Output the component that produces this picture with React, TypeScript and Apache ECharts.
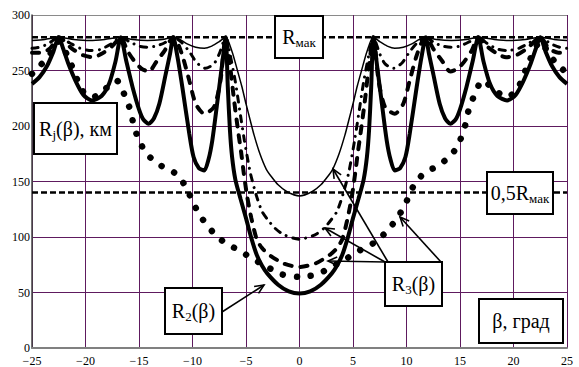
import React, { useEffect, useRef } from "react";
import * as echarts from "echarts";

// β, град (x) and R, км (y)
const xTicks = [-25, -20, -15, -10, -5, 0, 5, 10, 15, 20, 25];
const yTicks = [0, 50, 100, 150, 200, 250, 300];
const rMax = 280;
const rHalf = 140;

// thick solid  R2(β)
const thickR2: [number, number][] = [
  [-25, 238], [-24.3, 244], [-23.6, 254], [-23.0, 267], [-22.5, 280], [-22.1, 270], [-21.6, 256], [-20.9, 240],
  [-20.2, 228], [-19.4, 223], [-18.5, 227], [-17.8, 238], [-17.2, 258], [-16.7, 280], [-16.2, 259], [-15.6, 235],
  [-15.0, 215], [-14.6, 206], [-14.1, 202], [-13.6, 207], [-13.1, 220], [-12.5, 247], [-12.1, 265], [-11.8, 280],
  [-11.4, 262], [-10.95, 235], [-10.3, 193], [-9.9, 172], [-9.4, 162], [-8.9, 160], [-8.5, 170], [-8.15, 187],
  [-7.7, 220], [-7.2, 258], [-6.9, 280], [-6.7, 235], [-6.5, 196], [-6.3, 172], [-6.0, 152], [-5.5, 134],
  [-5.0, 117], [-4.5, 99], [-4.0, 84], [-3.5, 74], [-3.0, 67], [-2.0, 57], [-1.0, 51], [0, 49],
  [1.0, 51], [2.0, 57], [3.0, 67], [3.5, 74], [4.0, 84], [4.5, 99], [5.0, 117], [5.5, 134], [6.0, 152],
  [6.3, 172], [6.5, 196], [6.7, 235], [6.9, 280], [7.2, 258], [7.7, 220], [8.15, 187], [8.5, 170], [8.9, 160],
  [9.4, 162], [9.9, 172], [10.3, 193], [10.95, 235], [11.4, 262], [11.8, 280], [12.1, 265], [12.5, 247],
  [13.1, 220], [13.6, 207], [14.1, 202], [14.6, 206], [15.0, 215], [15.6, 235], [16.2, 259], [16.7, 280],
  [17.2, 258], [17.8, 238], [18.5, 227], [19.4, 223], [20.2, 228], [20.9, 240], [21.6, 256], [22.1, 270],
  [22.5, 280], [23.0, 267], [23.6, 254], [24.3, 244], [25, 238],
];

// large dots
const dotted: [number, number][] = [
  [-25, 247], [-24.5, 252], [-23.5, 262], [-22.5, 276], [-21.5, 259], [-20.3, 232], [-19.3, 226], [-18.2, 233],
  [-17.1, 241], [-16.4, 229], [-15.8, 214], [-15.5, 201], [-15.0, 187], [-14.2, 174], [-12.9, 164], [-11.7, 158],
  [-11.2, 153], [-10.6, 145], [-9.95, 131], [-9.2, 118], [-8.15, 105], [-7.0, 95], [-5.65, 88], [-4.3, 80],
  [-3.0, 73], [-1.7, 66.5], [-1.0, 65], [0, 64], [1.0, 65], [1.7, 66.5], [3.0, 73], [4.3, 80], [5.65, 88],
  [7.0, 95], [8.15, 105], [9.2, 118], [9.95, 131], [10.6, 145], [11.2, 153], [11.7, 158], [12.9, 164],
  [14.2, 174], [15.0, 187], [15.5, 201], [15.8, 214], [16.4, 229], [17.1, 241], [18.2, 233], [19.3, 226],
  [20.3, 232], [21.5, 259], [22.5, 276], [23.5, 262], [24.5, 252], [25, 247],
];

// long dashes
const dashed: [number, number][] = [
  [-25, 266], [-24.2, 266], [-23.3, 270], [-22.5, 280], [-21.3, 270], [-20.3, 264], [-19.3, 262], [-18.5, 265],
  [-17.5, 272], [-16.7, 280], [-16.1, 268], [-15.4, 258], [-14.8, 252], [-14.1, 249], [-13.3, 259], [-12.6, 268],
  [-11.8, 280], [-11.4, 275], [-10.9, 262], [-10.3, 241], [-9.7, 220], [-8.9, 211], [-8.0, 217], [-7.4, 240],
  [-6.9, 280], [-6.5, 255], [-6.1, 222], [-5.7, 193], [-5.45, 176], [-5.2, 157], [-4.9, 137], [-4.5, 117],
  [-4.0, 98], [-3.5, 90], [-2.85, 84], [-1.45, 76], [0, 73], [1.45, 76], [2.85, 84], [3.5, 90], [4.0, 98],
  [4.5, 117], [4.9, 137], [5.2, 157], [5.45, 176], [5.7, 193], [6.1, 222], [6.5, 255], [6.9, 280], [7.4, 240],
  [8.0, 217], [8.9, 211], [9.7, 220], [10.3, 241], [10.9, 262], [11.4, 275], [11.8, 280], [12.6, 268],
  [13.3, 259], [14.1, 249], [14.8, 252], [15.4, 258], [16.1, 268], [16.7, 280], [17.5, 272], [18.5, 265],
  [19.3, 262], [20.3, 264], [21.3, 270], [22.5, 280], [23.3, 270], [24.2, 266], [25, 266],
];

// dash-dot
const dashDot: [number, number][] = [
  [-25, 270], [-24.3, 271], [-23.5, 274], [-22.5, 280], [-21.5, 275], [-20.5, 270], [-19.5, 268], [-18.6, 269],
  [-17.6, 274], [-16.7, 280], [-15.9, 276], [-15.0, 272], [-14.2, 271], [-13.4, 272], [-12.6, 275], [-11.8, 280],
  [-11.1, 276], [-10.3, 267], [-9.6, 257], [-8.8, 252], [-8.0, 256], [-7.5, 265], [-6.9, 280], [-6.5, 265],
  [-6.0, 240], [-5.6, 215], [-5.15, 187], [-4.6, 158], [-4.05, 138], [-3.5, 123], [-3.0, 116], [-2.3, 108],
  [-1.45, 102], [0, 98], [1.45, 102], [2.3, 108], [3.0, 116], [3.5, 123], [4.05, 138], [4.6, 158], [5.15, 187],
  [5.6, 215], [6.0, 240], [6.5, 265], [6.9, 280], [7.5, 265], [8.0, 256], [8.8, 252], [9.6, 257], [10.3, 267],
  [11.1, 276], [11.8, 280], [12.6, 275], [13.4, 272], [14.2, 271], [15.0, 272], [15.9, 276], [16.7, 280],
  [17.6, 274], [18.6, 269], [19.5, 268], [20.5, 270], [21.5, 275], [22.5, 280], [23.5, 274], [24.3, 271], [25, 270],
];

// thin solid
const thin: [number, number][] = [
  [-25, 277], [-23.8, 278], [-22.5, 280], [-21.1, 278], [-19.6, 277], [-18.2, 278], [-16.7, 280], [-15.6, 278],
  [-14.2, 277], [-12.8, 278], [-11.8, 280], [-11.2, 278], [-10.5, 274], [-9.7, 271], [-8.9, 270], [-8.2, 272],
  [-7.5, 276], [-6.9, 280], [-6.3, 267], [-5.8, 250], [-5.4, 236], [-5.0, 220], [-4.6, 205], [-4.25, 192],
  [-3.7, 175], [-3.1, 161], [-2.6, 154], [-2.0, 147], [-1.2, 141], [0, 137], [1.2, 141], [2.0, 147], [2.6, 154],
  [3.1, 161], [3.7, 175], [4.25, 192], [4.6, 205], [5.0, 220], [5.4, 236], [5.8, 250], [6.3, 267], [6.9, 280],
  [7.5, 276], [8.2, 272], [8.9, 270], [9.7, 271], [10.5, 274], [11.2, 278], [11.8, 280], [12.8, 278],
  [14.2, 277], [15.6, 278], [16.7, 280], [18.2, 278], [19.6, 277], [21.1, 278], [22.5, 280], [23.8, 278], [25, 277],
];

const FONT = "Liberation Serif";
const GRID_COLOR = "#5e1a5e";

function box(x: number, y: number, w: number, h: number, text: string, rich: any) {
  return [
    {
      type: "rect",
      z: 100,
      shape: { x, y, width: w, height: h },
      style: { fill: "#fff", stroke: "#000", lineWidth: 2 },
    },
    {
      type: "text",
      z: 101,
      x: x + w / 2,
      y: y + h / 2,
      style: {
        text,
        rich,
        fill: "#000",
        fontFamily: FONT,
        fontSize: 20,
        align: "center",
        verticalAlign: "middle",
        textAlign: "center",
        textVerticalAlign: "middle",
      },
    },
  ];
}

function arrow(x1: number, y1: number, x2: number, y2: number) {
  const ang = Math.atan2(y2 - y1, x2 - x1);
  const L = 10;
  const a = 0.42;
  const p1 = [x2 - L * Math.cos(ang - a), y2 - L * Math.sin(ang - a)];
  const p2 = [x2 - L * Math.cos(ang + a), y2 - L * Math.sin(ang + a)];
  return [
    { type: "line", z: 99, shape: { x1, y1, x2, y2 }, style: { stroke: "#000", lineWidth: 1.6 } },
    { type: "polyline", z: 99, shape: { points: [p1, [x2, y2], p2] }, style: { stroke: "#000", lineWidth: 1.6, fill: null } },
  ];
}

const richBase = {
  r: { fontSize: 20, fontFamily: FONT, fill: "#000" },
  s: { fontSize: 13, fontFamily: FONT, fill: "#000", padding: [11, 0, 0, 0] },
};

export default function App() {
  const ref = useRef<HTMLDivElement>(null);
  useEffect(() => {
    document.body.style.margin = "0";
    if (!ref.current) return;
    const chart = echarts.init(ref.current, null, { renderer: "svg" });
    const lineBase = { type: "line", symbol: "none", smooth: 0.25, silent: true };
    const option: any = {
      animation: false,
      backgroundColor: "#fff",
      textStyle: { fontFamily: FONT },
      grid: { left: 32, right: 12, top: 15, bottom: 19 },
      xAxis: {
        type: "value",
        min: xTicks[0],
        max: xTicks[xTicks.length - 1],
        interval: 5,
        axisLine: { show: true, onZero: false, lineStyle: { color: "#808080", width: 2 } },
        axisTick: { show: false },
        axisLabel: {
          color: "#000",
          fontFamily: FONT,
          fontSize: 12,
          margin: 7,
          formatter: (v: number) => (v < 0 ? "\u2212" + Math.abs(v) : String(v)),
        },
        splitLine: { show: true, lineStyle: { color: GRID_COLOR, width: 1 } },
      },
      yAxis: {
        type: "value",
        min: yTicks[0],
        max: yTicks[yTicks.length - 1],
        interval: 50,
        axisLine: { show: true, onZero: false, lineStyle: { color: "#444", width: 1.5 } },
        axisTick: { show: false },
        axisLabel: { color: "#000", fontFamily: FONT, fontSize: 12, margin: 2 },
        splitLine: {
          show: true,
          lineStyle: {
            color: [GRID_COLOR, GRID_COLOR, GRID_COLOR, GRID_COLOR, GRID_COLOR, GRID_COLOR, "#8a8a8a"],
            width: 1,
          },
        },
      },
      series: [
        {
          ...lineBase,
          name: "Rmax",
          smooth: false,
          data: [[xTicks[0], rMax], [xTicks[xTicks.length - 1], rMax]],
          lineStyle: { color: "#000", width: 2.5, type: [6, 3] },
        },
        {
          ...lineBase,
          name: "0.5Rmax",
          smooth: false,
          data: [[xTicks[0], rHalf], [xTicks[xTicks.length - 1], rHalf]],
          lineStyle: { color: "#000", width: 2.5, type: [6, 3] },
        },
        { ...lineBase, name: "thin", data: thin, lineStyle: { color: "#000", width: 1.5 } },
        {
          ...lineBase,
          name: "dashDot",
          data: dashDot,
          lineStyle: { color: "#000", width: 3, type: [6, 7, 0.01, 7], cap: "round" },
        },
        {
          ...lineBase,
          name: "dashed",
          data: dashed,
          lineStyle: { color: "#000", width: 4, type: [7, 9], cap: "round" },
        },
        {
          ...lineBase,
          name: "dotted",
          data: dotted,
          lineStyle: { color: "#000", width: 6.5, type: [0.01, 14], cap: "round" },
        },
        { ...lineBase, name: "R2", data: thickR2, lineStyle: { color: "#000", width: 4 } },
      ],
      graphic: {
        elements: [
          ...arrow(222, 312, 264, 285),
          ...arrow(441, 262, 400, 217),
          ...arrow(388, 262, 333, 169),
          ...arrow(385, 262, 325, 228),
          ...arrow(385, 262, 328, 261),
          ...box(275, 16, 48, 42, "{r|R}{s|мак}", richBase),
          ...box(487, 172, 66, 42, "{r|0,5R}{s|мак}", richBase),
          ...box(34, 103, 83, 51, "{r|R}{s|j}{r|(β), км}", richBase),
          ...box(165, 288, 57, 46, "{r|R}{s|2}{r|(β)}", richBase),
          ...box(385, 262, 57, 44, "{r|R}{s|3}{r|(β)}", richBase),
          ...box(479, 299, 84, 44, "{r|β, град}", richBase),
        ],
      },
    };
    chart.setOption(option);
    return () => chart.dispose();
  }, []);
  return <div ref={ref} style={{ width: 579, height: 367 }} />;
}
